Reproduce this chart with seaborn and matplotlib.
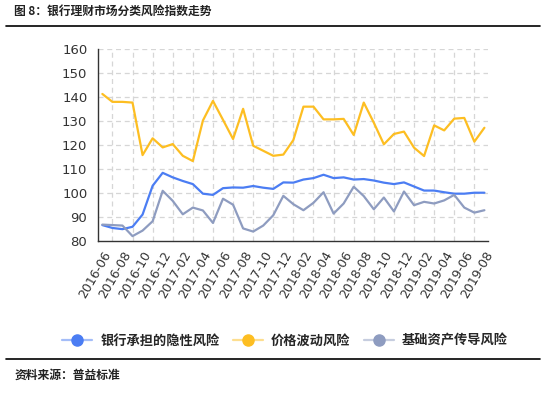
import numpy as np
import pandas as pd
import seaborn as sns
import matplotlib.pyplot as plt
from matplotlib.lines import Line2D

months = pd.date_range("2016-06", "2019-08", freq="MS").strftime("%Y-%m").tolist()

implicit_risk = [86.6, 85.4, 84.9, 85.9, 91.0, 103.0, 108.4, 106.5, 105.0, 103.7,
                 99.7, 99.2, 102.0, 102.3, 102.2, 102.9, 102.2, 101.7, 104.4, 104.3,
                 105.6, 106.2, 107.6, 106.2, 106.5, 105.6, 105.8, 105.2, 104.3, 103.7,
                 104.4, 102.7, 101.0, 101.0, 100.3, 99.7, 99.7, 100.1, 100.1]
price_risk = [141.3, 138.0, 138.0, 137.7, 115.8, 122.8, 119.0, 120.4, 115.5, 113.3,
              130.2, 138.4, 130.5, 122.5, 135.1, 119.7, 117.6, 115.5, 116.0, 122.1,
              136.0, 136.0, 130.7, 130.7, 130.9, 124.2, 137.7, 129.3, 120.3, 124.6,
              125.6, 118.9, 115.4, 128.2, 126.1, 131.0, 131.3, 121.4, 127.2]
asset_risk = [86.8, 86.6, 86.4, 82.0, 84.3, 88.2, 100.9, 96.7, 91.1, 93.9,
              92.7, 87.5, 97.6, 95.1, 85.2, 83.9, 86.4, 90.7, 98.8, 95.3,
              92.8, 95.9, 100.3, 91.4, 95.6, 102.6, 98.7, 93.2, 98.1, 92.3,
              100.6, 94.9, 96.3, 95.6, 96.9, 99.2, 93.9, 91.8, 92.8]

series_names = ["银行承担的隐性风险", "价格波动风险", "基础资产传导风险"]
colors = ["#4b7df3", "#fdbe22", "#8e9cc0"]

df = pd.DataFrame({"idx": np.arange(len(months)), "month": months,
                   series_names[0]: implicit_risk,
                   series_names[1]: price_risk,
                   series_names[2]: asset_risk})
long = df.melt(id_vars=["idx", "month"], var_name="series", value_name="value")

sns.set_style("white")
plt.rcParams["font.family"] = ["Noto Sans CJK SC", "DejaVu Sans"]

fig = plt.figure(figsize=(5.46, 3.93), dpi=100)
ax = fig.add_axes([0.179, 0.387, 0.715, 0.488])

sns.lineplot(data=long, x="idx", y="value", hue="series", palette=colors,
             hue_order=series_names, linewidth=1.6, legend=False, ax=ax)

ax.set_xlim(-0.46, 38.37)
ax.set_ylim(80, 160)
ax.set_yticks(range(80, 161, 10))
ax.set_xticks(range(0, len(months), 2))
ax.set_xticklabels(months[::2], rotation=60, ha="right", rotation_mode="anchor",
                   family="DejaVu Sans", fontsize=9, color="#333333")
ax.tick_params(axis="y", labelsize=9.5, labelcolor="#333333", length=4, color="#333333")
ax.tick_params(axis="x", length=4, color="#333333", pad=2)
for lab in ax.get_yticklabels():
    lab.set_family("DejaVu Sans")
ax.set_xlabel("")
ax.set_ylabel("")

# dashed grid: horizontal at every 10, vertical at odd months
for v in range(90, 161, 10):
    ax.axhline(v, color="#d6d6d6", lw=0.9, ls=(0, (4, 3)), zorder=0)
for i in range(1, len(months), 2):
    ax.axvline(i, color="#d6d6d6", lw=0.9, ls=(0, (4, 3)), zorder=0)

for s in ["top", "right"]:
    ax.spines[s].set_visible(False)
for s in ["left", "bottom"]:
    ax.spines[s].set_color("#333333")
    ax.spines[s].set_linewidth(1.0)

handles = [(Line2D([], [], color=c, lw=1.6, alpha=0.5),
            Line2D([], [], color=c, marker="o", markersize=8, lw=0))
           for c in colors]
fig.legend(handles, series_names, loc="center", bbox_to_anchor=(0.522, 0.133),
           ncol=3, frameon=False, handlelength=2.3, columnspacing=1.0,
           handletextpad=0.6, prop={"size": 9.5, "weight": "bold"})

fig.text(0.026, 0.97, "图 8：银行理财市场分类风险指数走势", fontsize=8.5,
         weight="bold", va="center", ha="left", color="#222222")
fig.add_artist(Line2D([0.011, 0.989], [0.934, 0.934], color="black", lw=1.2))
fig.add_artist(Line2D([0.011, 0.989], [0.087, 0.087], color="black", lw=1.2))
fig.text(0.026, 0.045, "资料来源：普益标准", fontsize=8.5, weight="bold",
         va="center", ha="left", color="#222222")

fig.savefig("out.png", dpi=100)
